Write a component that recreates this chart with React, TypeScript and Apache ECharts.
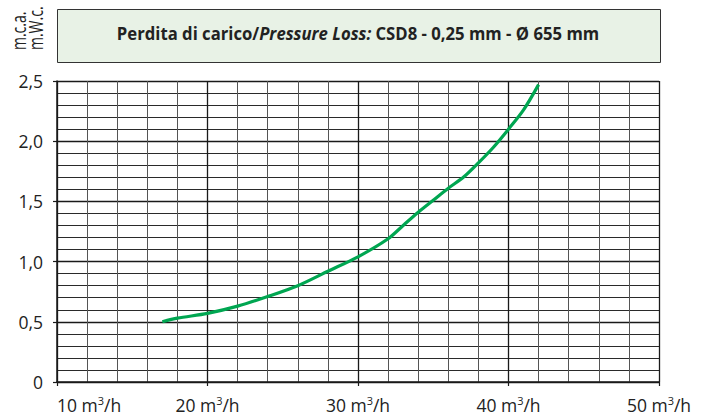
import React, { useEffect, useRef } from "react";
import * as echarts from "echarts";

const flowValues = [17, 18, 20, 22, 24, 26, 28, 30, 32, 33, 34, 35, 36, 37, 38, 39, 40, 41, 42];
const lossValues = [0.5, 0.53, 0.57, 0.63, 0.71, 0.8, 0.92, 1.04, 1.19, 1.3, 1.41, 1.51, 1.61, 1.7, 1.82, 1.95, 2.1, 2.26, 2.47];
const yTickLabels = ["0", "0,5", "1,0", "1,5", "2,0", "2,5"];
const xTickLabels = ["10", "20", "30", "40", "50"];

const FONT = "Open Sans";

export default function App() {
  const ref = useRef<HTMLDivElement>(null);
  useEffect(() => {
    if (!ref.current) return;
    const chart = echarts.init(ref.current, null, { renderer: "svg" });
    const data = flowValues.map((x, i) => [x, lossValues[i]]);
    chart.setOption({
      animation: false,
      backgroundColor: "#ffffff",
      grid: { left: 57, right: 51, top: 81, bottom: 38, containLabel: false },
      xAxis: {
        type: "value",
        min: 10,
        max: 50,
        interval: 10,
        axisLine: { show: true, lineStyle: { color: "#1a1a1a", width: 1.5 } },
        axisTick: { show: true, length: 4, lineStyle: { color: "#1a1a1a", width: 1.2 } },
        minorTick: { show: false, splitNumber: 5 },
        splitLine: { show: true, lineStyle: { color: "#1a1a1a", width: 1.3 } },
        minorSplitLine: { show: true, lineStyle: { color: "#555", width: 1 } },
        axisLabel: {
          margin: 13,
          color: "#222",
          fontFamily: FONT,
          fontSize: 17.5,
          alignMinLabel: "left",
          formatter: (v: number) => {
            const i = Math.round((v - 10) / 10);
            return `{n|${xTickLabels[i] ?? v} m}{s|3}{n|/h}`;
          },
          rich: {
            n: { fontFamily: FONT, fontSize: 17.5, color: "#222" },
            s: { fontFamily: FONT, fontSize: 11, color: "#222", padding: [0, 0, 9, 0] },
          },
        },
      },
      yAxis: {
        type: "value",
        min: 0,
        max: 2.5,
        interval: 0.5,
        axisLine: { show: true, lineStyle: { color: "#1a1a1a", width: 1.5 } },
        axisTick: { show: true, length: 4, lineStyle: { color: "#1a1a1a", width: 1.2 } },
        minorTick: { show: false, splitNumber: 5 },
        splitLine: { show: true, lineStyle: { color: "#1a1a1a", width: 1.3 } },
        minorSplitLine: { show: true, lineStyle: { color: "#2a2a2a", width: 1 } },
        axisLabel: {
          margin: 14,
          color: "#222",
          fontFamily: FONT,
          fontSize: 17.5,
          formatter: (v: number) => yTickLabels[Math.round(v / 0.5)] ?? String(v),
        },
      },
      graphic: [
        {
          type: "rect",
          shape: { x: 57.5, y: 9.5, width: 603, height: 53 },
          style: { fill: "#e8f2e6", stroke: "#333", lineWidth: 1 },
          z: 10,
        },
        {
          type: "text",
          x: 358,
          y: 33,
          scaleY: 1.1,
          z: 11,
          style: {
            text: "{b|Perdita di carico/}{bi|Pressure Loss:}{b| CSD8 - 0,25 mm - Ø 655 mm}",
            align: "center",
            verticalAlign: "middle",
            textAlign: "center",
            textVerticalAlign: "middle",
            rich: {
              b: { fontFamily: FONT, fontSize: 16.7, fontWeight: "bold", fill: "#222", color: "#222" },
              bi: { fontFamily: FONT, fontSize: 16.7, fontWeight: "bold", fontStyle: "italic", fill: "#222", color: "#222" },
            },
          },
        },
        {
          type: "text",
          x: 19,
          y: 50,
          rotation: Math.PI / 2,
          scaleY: 1.4,
          z: 11,
          style: {
            text: "m.c.a.",
            fontFamily: FONT,
            fontSize: 14,
            fill: "#222",
            align: "left",
            verticalAlign: "middle",
            textAlign: "left",
            textVerticalAlign: "middle",
          },
        },
        {
          type: "text",
          x: 36,
          y: 50,
          rotation: Math.PI / 2,
          scaleY: 1.4,
          z: 11,
          style: {
            text: "m.W.c.",
            fontFamily: FONT,
            fontSize: 14,
            fill: "#222",
            align: "left",
            verticalAlign: "middle",
            textAlign: "left",
            textVerticalAlign: "middle",
          },
        },
      ],
      series: [
        {
          type: "line",
          data,
          showSymbol: false,
          symbol: "none",
          smooth: 0.3,
          lineStyle: { color: "#00a651", width: 3.2 },
          z: 5,
        },
      ],
    });
    return () => chart.dispose();
  }, []);
  return (
    <div
      ref={ref}
      style={{ position: "fixed", left: 0, top: 0, width: 710, height: 420 }}
    />
  );
}
